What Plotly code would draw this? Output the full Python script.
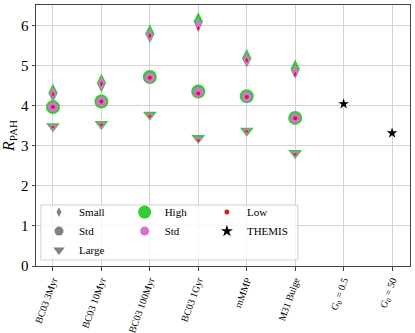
import plotly.graph_objects as go

models = ["BC03 3Myr", "BC03 10Myr", "BC03 100Myr", "BC03 1Gyr", "mMMP", "M31 Bulge"]
themis_labels = ["<i>G</i><sub>0</sub> = 0.5", "<i>G</i><sub>0</sub> = 50"]

# R_PAH per size distribution, for High / Std / Low
small_high = [4.32, 4.57, 5.80, 6.11, 5.19, 4.92]
small_std = [4.30, 4.56, 5.77, 6.03, 5.16, 4.85]
small_low = [4.29, 4.55, 5.75, 5.93, 5.14, 4.79]

std_high = [3.97, 4.11, 4.72, 4.36, 4.24, 3.70]
std_std = [3.97, 4.11, 4.71, 4.34, 4.23, 3.69]
std_low = [3.97, 4.11, 4.70, 4.31, 4.22, 3.69]

large_high = [3.49, 3.55, 3.78, 3.20, 3.38, 2.82]
large_std = [3.48, 3.54, 3.76, 3.17, 3.37, 2.81]
large_low = [3.47, 3.53, 3.74, 3.14, 3.36, 2.79]

themis_vals = [4.05, 3.32]

GREEN = "#32CD32"
PINK = "#DA70D6"
RED = "#C8232C"
GRAY = "#808080"
FONT = "Liberation Serif, Times New Roman, serif"

fig = go.Figure()

shapes = [
    ("diamond-tall", [small_high, small_std, small_low], [13.5, 10, 4]),
    ("circle", [std_high, std_std, std_low], [14, 10, 4]),
    ("triangle-down", [large_high, large_std, large_low], [12, 8, 3.5]),
]
for sym, series, sizes in shapes:
    for vals, col, sz in zip(series, [GREEN, PINK, RED], sizes):
        fig.add_trace(go.Scatter(
            x=models, y=vals, mode="markers", showlegend=False,
            marker=dict(symbol=sym, size=sz, color=col),
        ))

fig.add_trace(go.Scatter(
    x=themis_labels, y=themis_vals, mode="markers", showlegend=False,
    marker=dict(symbol="star", size=8, color="black"),
))

# legend-only entries
def leg(name, sym, sz, col, legend):
    fig.add_trace(go.Scatter(
        x=[None], y=[None], mode="markers", name=name, legend=legend,
        marker=dict(symbol=sym, size=sz, color=col),
    ))

leg("Small", "diamond-tall", 7, GRAY, "legend")
leg("Std", "circle", 9, GRAY, "legend")
leg("Large", "triangle-down", 10, GRAY, "legend")
leg("High", "circle", 13, GREEN, "legend2")
leg("Std", "circle", 9, PINK, "legend2")
leg("Low", "circle", 5, RED, "legend3")
leg("THEMIS", "star", 9, "black", "legend3")

legend_style = dict(
    bgcolor="rgba(0,0,0,0)", font=dict(family=FONT, size=11, color="black"),
    yanchor="top", xanchor="left", y=0.262, tracegroupgap=0, itemsizing="trace",
)
fig.update_layout(
    legend=dict(x=0.008, **legend_style),
    legend2=dict(x=0.237, **legend_style),
    legend3=dict(x=0.457, **legend_style),
)

# legend frame
fig.add_shape(
    type="rect", xref="paper", yref="paper",
    x0=0.013, x1=0.70, y0=0.023, y1=0.234,
    fillcolor="rgba(255,255,255,0.8)", line=dict(color="#d0d0d0", width=1),
    layer="above",
)

fig.update_xaxes(
    categoryorder="array", categoryarray=models + themis_labels,
    range=[-0.35, 7.37], tickangle=-70,
    tickfont=dict(family=FONT, size=10, color="black"),
    showgrid=True, gridcolor="#d3d3d3", gridwidth=1,
    showline=True, linecolor="#444", linewidth=1, mirror=True,
    ticks="outside", ticklen=3.5, tickcolor="#444", automargin=False,
)
fig.update_yaxes(
    range=[0, 6.52], dtick=1,
    tickfont=dict(family=FONT, size=15, color="black"),
    showgrid=True, gridcolor="#d3d3d3", gridwidth=1,
    showline=True, linecolor="#444", linewidth=1, mirror=True,
    ticks="outside", ticklen=3.5, tickcolor="#444",
    title=dict(text="<i>R</i><sub>PAH</sub>", font=dict(family=FONT, size=16, color="black"), standoff=6),
    zeroline=False,
)
fig.update_layout(
    width=415, height=333,
    margin=dict(l=35, r=4, t=5, b=67),
    plot_bgcolor="white", paper_bgcolor="white",
    font=dict(family=FONT),
)

fig.write_html(
    "out.html",
    config={"displayModeBar": False},
    post_script="document.body.style.margin='0';",
)
